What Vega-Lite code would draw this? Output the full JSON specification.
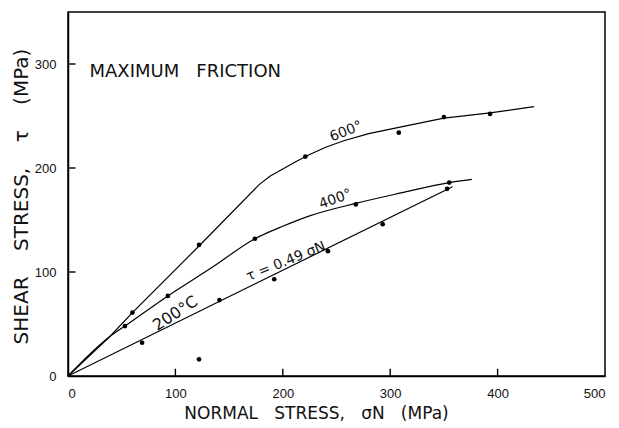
{
  "$schema": "https://vega.github.io/schema/vega-lite/v6.json",
  "width": 537,
  "height": 364,
  "autosize": "none",
  "padding": {"left": 68, "top": 12, "right": 14, "bottom": 52},
  "background": "white",
  "config": {
    "view": {"stroke": "black", "strokeWidth": 1.5},
    "font": "DejaVu Sans",
    "axis": {
      "domainColor": "black", "domainWidth": 1.5, "ticks": false,
      "grid": false, "labelColor": "#111", "titleColor": "#111", "zindex": 1,
      "labelFont": "Liberation Sans", "labelFontSize": 13, "titleFont": "DejaVu Sans",
      "titleFontWeight": "normal"
    }
  },
  "datasets": {
    "curves": [
      {"series": "600", "x": 0, "y": 0}, {"series": "600", "x": 39, "y": 38}, {"series": "600", "x": 60, "y": 61},
      {"series": "600", "x": 122, "y": 125}, {"series": "600", "x": 178, "y": 184}, {"series": "600", "x": 188, "y": 192},
      {"series": "600", "x": 200, "y": 199}, {"series": "600", "x": 212, "y": 206}, {"series": "600", "x": 225, "y": 213},
      {"series": "600", "x": 240, "y": 220}, {"series": "600", "x": 256, "y": 226}, {"series": "600", "x": 280, "y": 233},
      {"series": "600", "x": 308, "y": 239}, {"series": "600", "x": 350, "y": 248}, {"series": "600", "x": 393, "y": 253},
      {"series": "600", "x": 434, "y": 259},
      {"series": "400", "x": 0, "y": 0}, {"series": "400", "x": 39, "y": 38}, {"series": "400", "x": 53, "y": 48},
      {"series": "400", "x": 93, "y": 77}, {"series": "400", "x": 135, "y": 105}, {"series": "400", "x": 174, "y": 132},
      {"series": "400", "x": 200, "y": 144}, {"series": "400", "x": 225, "y": 154}, {"series": "400", "x": 268, "y": 166},
      {"series": "400", "x": 310, "y": 176}, {"series": "400", "x": 355, "y": 186}, {"series": "400", "x": 376, "y": 189},
      {"series": "200", "x": 0, "y": 0}, {"series": "200", "x": 358, "y": 182}
    ],
    "points": [
      {"series": "600", "x": 60, "y": 61}, {"series": "600", "x": 122, "y": 126}, {"series": "600", "x": 221, "y": 211},
      {"series": "600", "x": 308, "y": 234}, {"series": "600", "x": 350, "y": 249}, {"series": "600", "x": 393, "y": 252},
      {"series": "400", "x": 53, "y": 48}, {"series": "400", "x": 93, "y": 77}, {"series": "400", "x": 174, "y": 132},
      {"series": "400", "x": 268, "y": 165}, {"series": "400", "x": 355, "y": 186},
      {"series": "200", "x": 69, "y": 32}, {"series": "200", "x": 141, "y": 73}, {"series": "200", "x": 192, "y": 93},
      {"series": "200", "x": 242, "y": 120}, {"series": "200", "x": 293, "y": 146}, {"series": "200", "x": 353, "y": 180},
      {"series": "other", "x": 122, "y": 16}
    ],
    "xticks": [{"v": 100}, {"v": 200}, {"v": 300}, {"v": 400}],
    "yticks": [{"v": 100}, {"v": 200}, {"v": 300}]
  },
  "layer": [
    {
      "data": {"name": "curves"},
      "transform": [{"filter": "datum.series != '400'"}],
      "mark": {"type": "line", "color": "black", "strokeWidth": 1.2},
      "encoding": {
        "x": {"field": "x", "type": "quantitative", "scale": {"domain": [0, 500], "nice": false},
          "axis": {"values": [0, 100, 200, 300, 400, 500], "title": "NORMAL\u00a0\u00a0 STRESS,\u00a0\u00a0 σN\u00a0\u00a0 (MPa)", "titleFontSize": 17,
            "labelPadding": 11, "titlePadding": 5, "titleX": 248, "titleAnchor": "middle"}},
        "y": {"field": "y", "type": "quantitative", "scale": {"domain": [0, 350], "nice": false},
          "axis": {"values": [0, 100, 200, 300], "title": "SHEAR\u00a0\u00a0\u00a0 STRESS,\u00a0\u00a0\u00a0 τ\u00a0\u00a0\u00a0 (MPa)", "titleFontSize": 20,
            "labelPadding": 12, "titlePadding": 3, "titleY": 184}},
        "detail": {"field": "series"}
      }
    },
    {
      "data": {"name": "xticks"},
      "mark": {"type": "rule", "color": "black", "strokeWidth": 1.4},
      "encoding": {
        "x": {"field": "v", "type": "quantitative"},
        "y": {"datum": 0},
        "y2": {"datum": 7}
      }
    },
    {
      "data": {"name": "yticks"},
      "mark": {"type": "rule", "color": "black", "strokeWidth": 1.4},
      "encoding": {
        "y": {"field": "v", "type": "quantitative"},
        "x": {"datum": 0},
        "x2": {"datum": 7}
      }
    },
    {
      "data": {"name": "curves"},
      "transform": [{"filter": "datum.series == '400'"}],
      "mark": {"type": "line", "color": "black", "strokeWidth": 1.2, "interpolate": "monotone"},
      "encoding": {
        "x": {"field": "x", "type": "quantitative"},
        "y": {"field": "y", "type": "quantitative"}
      }
    },
    {
      "data": {"name": "points"},
      "mark": {"type": "circle", "color": "black", "size": 22, "opacity": 1},
      "encoding": {
        "x": {"field": "x", "type": "quantitative"},
        "y": {"field": "y", "type": "quantitative"}
      }
    },
    {
      "data": {"values": [{"x": 20, "y": 292, "label": "MAXIMUM\u00a0\u00a0 FRICTION"}]},
      "mark": {"type": "text", "align": "left", "baseline": "middle", "fontSize": 18, "color": "#111"},
      "encoding": {"x": {"field": "x", "type": "quantitative"}, "y": {"field": "y", "type": "quantitative"}, "text": {"field": "label"}}
    },
    {
      "data": {"values": [{"x": 259, "y": 235, "label": "600°"}]},
      "mark": {"type": "text", "align": "center", "baseline": "middle", "fontSize": 14, "angle": -22, "color": "#111"},
      "encoding": {"x": {"field": "x", "type": "quantitative"}, "y": {"field": "y", "type": "quantitative"}, "text": {"field": "label"}}
    },
    {
      "data": {"values": [{"x": 249, "y": 170, "label": "400°"}]},
      "mark": {"type": "text", "align": "center", "baseline": "middle", "fontSize": 14, "angle": -20, "color": "#111"},
      "encoding": {"x": {"field": "x", "type": "quantitative"}, "y": {"field": "y", "type": "quantitative"}, "text": {"field": "label"}}
    },
    {
      "data": {"values": [{"x": 100, "y": 60, "label": "200°C"}]},
      "mark": {"type": "text", "align": "center", "baseline": "middle", "fontSize": 16, "angle": -33, "color": "#111"},
      "encoding": {"x": {"field": "x", "type": "quantitative"}, "y": {"field": "y", "type": "quantitative"}, "text": {"field": "label"}}
    },
    {
      "data": {"values": [{"x": 203, "y": 110, "label": "τ = 0.49 σN"}]},
      "mark": {"type": "text", "align": "center", "baseline": "middle", "fontSize": 14, "angle": -22, "color": "#111"},
      "encoding": {"x": {"field": "x", "type": "quantitative"}, "y": {"field": "y", "type": "quantitative"}, "text": {"field": "label"}}
    }
  ]
}
